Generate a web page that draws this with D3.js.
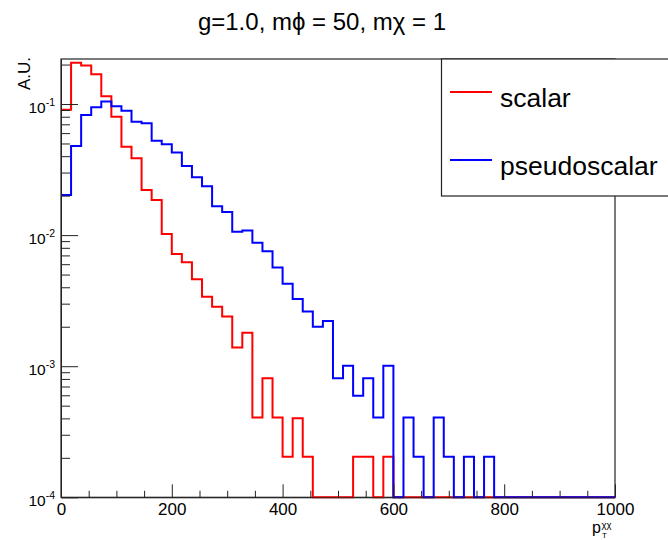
<!DOCTYPE html>
<html>
<head>
<meta charset="utf-8">
<script src="https://cdn.jsdelivr.net/npm/d3@7"></script>
<style>
  body { margin: 0; background: #fff; }
  svg { display: block; font-family: "Liberation Sans", Arial, sans-serif; }
</style>
</head>
<body>
<svg width="668" height="540"></svg>
<script>
// histogram: 55 bins from 0 to 1000 in pT(chi chi)
const xMin = 0, xMax = 1000, nBins = 55;
const xMajorTicks = [0, 200, 400, 600, 800, 1000];
const yMajorTicks = [1e-4, 1e-3, 1e-2, 1e-1];
const seriesNames = ["scalar", "pseudoscalar"];
const seriesColors = ["#ff0000", "#0000ff"];

const scalarValues = [
  0.0906, 0.206, 0.197, 0.169, 0.1146, 0.080, 0.0472, 0.0386, 0.0221, 0.01854,
  0.0102, 0.00718, 0.00621, 0.0046, 0.00339, 0.00284, 0.00239, 0.00139, 0.0018, 0.000407,
  0.00081, 0.000407, 0.000204, 0.0004, 0.000204, 0, 0, 0, 0, 0.000204,
  0.000204, 0, 0.000204, 0, 0, 0, 0, 0, 0, 0,
  0, 0, 0, 0, 0, 0, 0, 0, 0, 0,
  0, 0, 0, 0, 0
];
const pseudoscalarValues = [
  0.0202, 0.0479, 0.0824, 0.0944, 0.1045, 0.0962, 0.0889, 0.0733, 0.0713, 0.0525,
  0.0493, 0.0427, 0.0337, 0.0276, 0.0236, 0.0166, 0.0150, 0.01062, 0.01084, 0.00873,
  0.00753, 0.00567, 0.00425, 0.00326, 0.00261, 0.0020, 0.00221, 0.00081, 0.00101, 0.000596,
  0.00081, 0.000407, 0.00101, 0, 0.000407, 0.000204, 0, 0.000407, 0.000204, 0,
  0.000204, 0, 0.000204, 0, 0, 0, 0, 0, 0, 0,
  0, 0, 0, 0, 0
];

const plotLeft = 61, plotRight = 615, plotTop = 59, plotBottom = 497.3;
const yMin = 1e-4, yMax = 0.2205;

const svg = d3.select("svg");

const x = d3.scaleLinear().domain([xMin, xMax]).range([plotLeft, plotRight]);
const y = d3.scaleLog().domain([yMin, yMax]).range([plotBottom, plotTop]);

// title
svg.append("text")
  .attr("x", 322)
  .attr("y", 30)
  .attr("text-anchor", "middle")
  .attr("font-size", "24px")
  .attr("fill", "#000")
  .text("g=1.0, m\u03D5 = 50, m\u03C7 = 1");

// frame
svg.append("rect")
  .attr("x", plotLeft).attr("y", plotTop)
  .attr("width", plotRight - plotLeft).attr("height", plotBottom - plotTop)
  .attr("fill", "none")
  .attr("stroke", "#222")
  .attr("stroke-width", 1.2);

// histograms
const binW = (xMax - xMin) / nBins;
const line = d3.line()
  .x(d => x(d[0]))
  .y(d => y(Math.max(d[1], yMin)))
  .curve(d3.curveStepAfter);

[scalarValues, pseudoscalarValues].forEach((vals, k) => {
  const pts = vals.map((v, i) => [xMin + i * binW, v]);
  pts.push([xMax, vals[vals.length - 1]]);
  svg.append("path")
    .attr("d", line(pts))
    .attr("fill", "none")
    .attr("stroke", seriesColors[k])
    .attr("stroke-width", 2);
});

// x axis
const xMinor = d3.range(0, 1001, 50).filter(v => xMajorTicks.indexOf(v) < 0);
svg.append("g")
  .attr("transform", `translate(0,${plotBottom})`)
  .call(d3.axisBottom(x).tickValues(xMinor).tickSize(-6.5).tickSizeOuter(0).tickFormat(""))
  .call(g => g.select(".domain").remove())
  .call(g => g.selectAll("line").attr("stroke", "#222"));

svg.append("g")
  .attr("transform", `translate(0,${plotBottom})`)
  .call(d3.axisBottom(x).tickValues(xMajorTicks).tickSize(-13).tickSizeOuter(0)
    .tickPadding(6).tickFormat(d3.format("d")))
  .call(g => g.select(".domain").attr("stroke", "#222"))
  .call(g => g.selectAll("line").attr("stroke", "#222"))
  .call(g => g.selectAll("text")
    .attr("font-size", "17px")
    .attr("fill", "#000")
    .attr("font-family", "Liberation Sans, Arial, sans-serif"));

// x title p_T^{chi chi}
const xt = svg.append("g").attr("transform", "translate(592,533)");
xt.append("text").attr("font-size", "16px").text("p");
xt.append("text").attr("x", 9.5).attr("y", -5).attr("font-size", "9.5px").text("\u03C7\u03C7");
xt.append("text").attr("x", 10).attr("y", 5).attr("font-size", "8px").text("T");

// y axis
const yMinor = [];
[-4, -3, -2, -1].forEach(p => {
  for (let m = 2; m <= 9; m++) {
    const v = m * Math.pow(10, p);
    if (v <= yMax) yMinor.push(v);
  }
});
svg.append("g")
  .attr("transform", `translate(${plotLeft},0)`)
  .call(d3.axisLeft(y).tickValues(yMinor).tickSize(-9).tickSizeOuter(0).tickFormat(""))
  .call(g => g.select(".domain").remove())
  .call(g => g.selectAll("line").attr("stroke", "#222"));

const yAxisG = svg.append("g")
  .attr("transform", `translate(${plotLeft},0)`)
  .call(d3.axisLeft(y).tickValues(yMajorTicks).tickSize(-17).tickSizeOuter(0).tickFormat(""))
  .call(g => g.select(".domain").attr("stroke", "#222"))
  .call(g => g.selectAll("line").attr("stroke", "#222"));

yAxisG.selectAll(".tick").each(function(d) {
  const t = d3.select(this).select("text")
    .attr("x", -6).attr("dy", null).attr("y", 8)
    .attr("text-anchor", "end")
    .attr("fill", "#000");
  t.append("tspan").attr("font-size", "15.5px").text("10");
  t.append("tspan").attr("font-size", "10.5px").attr("dy", -7)
    .text(Math.round(Math.log10(d)).toString());
});

// y title
svg.append("text")
  .attr("transform", "translate(30,57) rotate(-90)")
  .attr("text-anchor", "end")
  .attr("font-size", "17px")
  .text("A.U.");

// legend
const leg = svg.append("g");
leg.append("rect")
  .attr("x", 441.5).attr("y", 59)
  .attr("width", 260).attr("height", 137)
  .attr("fill", "#fff")
  .attr("stroke", "#222")
  .attr("stroke-width", 1.2);

const legY = [92, 160];
seriesNames.forEach((name, i) => {
  leg.append("line")
    .attr("x1", 450).attr("x2", 492)
    .attr("y1", legY[i]).attr("y2", legY[i])
    .attr("stroke", seriesColors[i])
    .attr("stroke-width", 2);
  leg.append("text")
    .attr("x", 500).attr("y", legY[i] + 15)
    .attr("font-size", "26.5px")
    .attr("fill", "#000")
    .text(name);
});
</script>
</body>
</html>
